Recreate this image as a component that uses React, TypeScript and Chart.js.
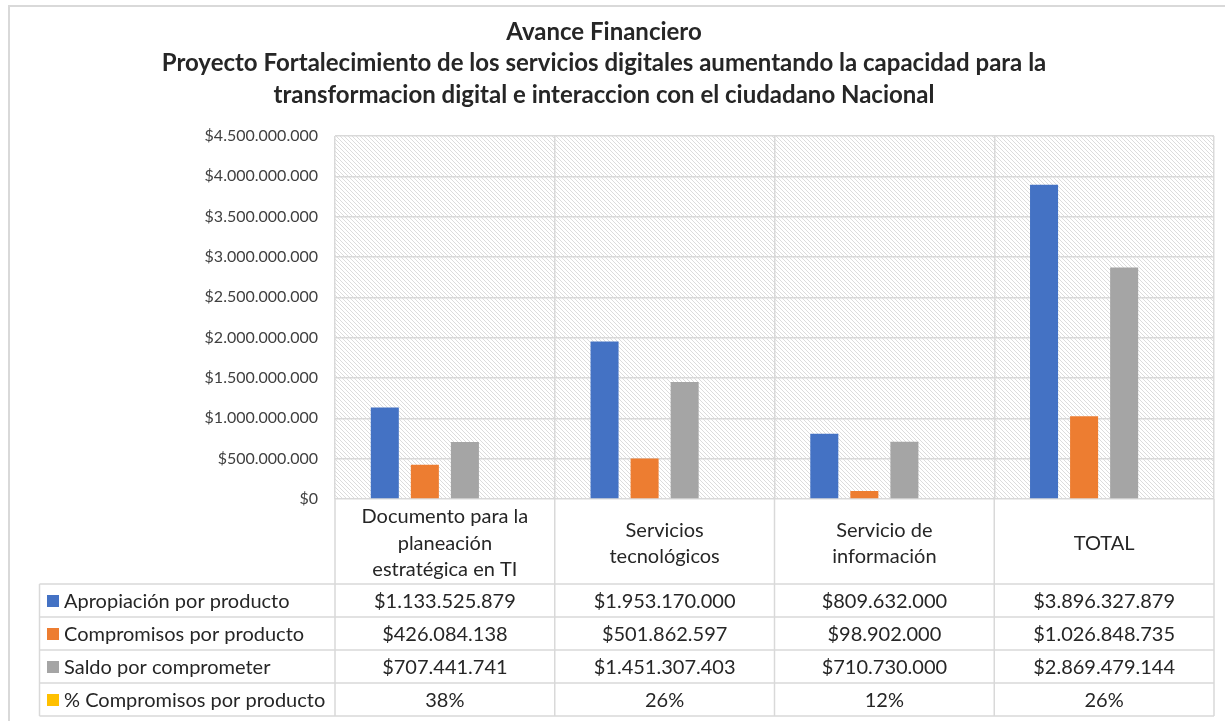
import React, { useEffect, useRef } from 'react';
import { Chart, registerables } from 'chart.js';

Chart.register(...registerables);

const titleLines = [
  'Avance Financiero',
  'Proyecto Fortalecimiento de los servicios digitales aumentando la capacidad para la',
  'transformacion digital e interaccion con el ciudadano Nacional',
];
const categories: string[][] = [
  ['Documento para la', 'planeación', 'estratégica en TI'],
  ['Servicios', 'tecnológicos'],
  ['Servicio de', 'información'],
  ['TOTAL'],
];
const seriesNames = [
  'Apropiación por producto',
  'Compromisos por producto',
  'Saldo por comprometer',
  '% Compromisos por producto',
];
const apropiacion = [1133525879, 1953170000, 809632000, 3896327879];
const compromisos = [426084138, 501862597, 98902000, 1026848735];
const saldo = [707441741, 1451307403, 710730000, 2869479144];
const pctCompromisos = [0.38, 0.26, 0.12, 0.26];
const seriesColors = ['#4472C4', '#ED7D31', '#A5A5A5', '#FFC000'];
const yMax = 4500000000;
const yStep = 500000000;

const FONT = 'Lato, "Open Sans", sans-serif';
const GRID = '#d9d9d9';
const TEXT = '#262626';

function money(v: number): string {
  return '$' + Math.round(v).toString().replace(/\B(?=(\d{3})+(?!\d))/g, '.');
}
function pct(v: number): string {
  return Math.round(v * 100) + '%';
}

let hatchPattern: CanvasPattern | null = null;
function getHatch(ctx: CanvasRenderingContext2D): CanvasPattern | null {
  if (hatchPattern) return hatchPattern;
  const c = document.createElement('canvas');
  c.width = 4;
  c.height = 4;
  const g = c.getContext('2d')!;
  g.fillStyle = '#ffffff';
  g.fillRect(0, 0, 4, 4);
  g.fillStyle = '#dcdcdc';
  for (let i = 0; i < 4; i++) g.fillRect(i, i, 1, 1);
  hatchPattern = ctx.createPattern(c, 'repeat');
  return hatchPattern;
}

const backgroundPlugin = {
  id: 'bgHatch',
  beforeDraw(chart: any) {
    const ctx: CanvasRenderingContext2D = chart.ctx;
    const ca = chart.chartArea;
    ctx.save();
    ctx.fillStyle = '#ffffff';
    ctx.fillRect(0, 0, chart.width, chart.height);
    const p = getHatch(ctx);
    if (p) {
      ctx.fillStyle = p;
      ctx.fillRect(ca.left, ca.top, ca.right - ca.left, ca.bottom - ca.top);
    }
    ctx.restore();
  },
};

const tablePlugin = {
  id: 'dataTable',
  afterDraw(chart: any) {
    const ctx: CanvasRenderingContext2D = chart.ctx;
    const ca = chart.chartArea;
    const xs = chart.scales.x;
    const n = categories.length;
    const colW = (ca.right - ca.left) / n;
    const labelBottom = ca.bottom + 85;
    const rowH = 33;
    const legendLeft = 39.5;
    const rows = [apropiacion, compromisos, saldo, pctCompromisos];
    const tableBottom = labelBottom + rowH * rows.length;

    ctx.save();
    // outer chart border
    ctx.strokeStyle = GRID;
    ctx.lineWidth = 2;
    ctx.strokeRect(9, 6, chart.width + 20, chart.height + 20);

    // table lines
    ctx.lineWidth = 1.5;
    ctx.strokeStyle = GRID;
    ctx.beginPath();
    for (let r = 0; r <= rows.length; r++) {
      const y = labelBottom + r * rowH;
      ctx.moveTo(legendLeft, y);
      ctx.lineTo(ca.right, y);
    }
    ctx.moveTo(legendLeft, labelBottom);
    ctx.lineTo(legendLeft, tableBottom);
    for (let i = 0; i <= n; i++) {
      const x = ca.left + i * colW;
      ctx.moveTo(x, ca.bottom);
      ctx.lineTo(x, tableBottom);
    }
    ctx.stroke();

    // category labels
    ctx.fillStyle = TEXT;
    ctx.font = '20px ' + FONT;
    ctx.textAlign = 'center';
    ctx.textBaseline = 'middle';
    const lh = 26.5;
    const midLabel = (ca.bottom + labelBottom) / 2 + 2;
    categories.forEach((lines, i) => {
      const cx = xs.getPixelForValue(i);
      const start = midLabel - ((lines.length - 1) * lh) / 2;
      lines.forEach((t, k) => ctx.fillText(t, cx, start + k * lh));
    });

    // rows
    rows.forEach((vals, r) => {
      const cy = labelBottom + r * rowH + rowH / 2 + 1;
      ctx.fillStyle = seriesColors[r];
      ctx.fillRect(47, cy - 6.5, 12, 12);
      ctx.fillStyle = TEXT;
      ctx.textAlign = 'left';
      ctx.fillText(seriesNames[r], 64, cy);
      ctx.textAlign = 'center';
      vals.forEach((v, i) => {
        const cx = xs.getPixelForValue(i);
        ctx.fillText(r === 3 ? pct(v) : money(v), cx, cy);
      });
    });

    // title
    ctx.fillStyle = TEXT;
    ctx.font = 'bold 24px ' + FONT;
    ctx.textAlign = 'center';
    const titleX = 604;
    const titleY = [32, 63.5, 95];
    titleLines.forEach((t, k) => ctx.fillText(t, titleX, titleY[k]));
    ctx.restore();
  },
};

export default function App() {
  const ref = useRef<HTMLCanvasElement | null>(null);
  useEffect(() => {
    document.body.style.margin = '0';
    const canvas = ref.current!;
    const datasets = [apropiacion, compromisos, saldo, pctCompromisos].map((d, i) => ({
      label: seriesNames[i],
      data: d,
      backgroundColor: i === 3 ? 'rgba(0,0,0,0)' : seriesColors[i],
      borderWidth: 0,
      categoryPercentage: 0.729,
      barPercentage: 0.7,
    }));
    const chart = new Chart(canvas, {
      type: 'bar',
      data: { labels: categories.map((c) => c.join(' ')), datasets },
      options: {
        animation: false,
        responsive: false,
        maintainAspectRatio: false,
        layout: { padding: { left: 0, top: 136, right: 11, bottom: 222 } },
        plugins: {
          legend: { display: false },
          title: { display: false },
          tooltip: { enabled: false },
        },
        scales: {
          x: {
            ticks: { display: false },
            grid: { offset: true, color: GRID, lineWidth: 1.5, drawTicks: false },
            border: { display: false },
            afterFit: (s: any) => {
              s.height = 0;
            },
          },
          y: {
            min: 0,
            max: yMax,
            ticks: {
              stepSize: yStep,
              padding: 17,
              color: '#404040',
              font: { family: FONT, size: 16 },
              callback: (v: any) => money(Number(v)),
            },
            grid: { color: GRID, lineWidth: 1.5, drawTicks: false },
            border: { display: false },
            afterFit: (s: any) => {
              s.width = 335;
            },
          },
        },
      },
      plugins: [backgroundPlugin, tablePlugin],
    });
    return () => chart.destroy();
  }, []);
  return <canvas ref={ref} width={1225} height={721} style={{ display: 'block' }} />;
}
